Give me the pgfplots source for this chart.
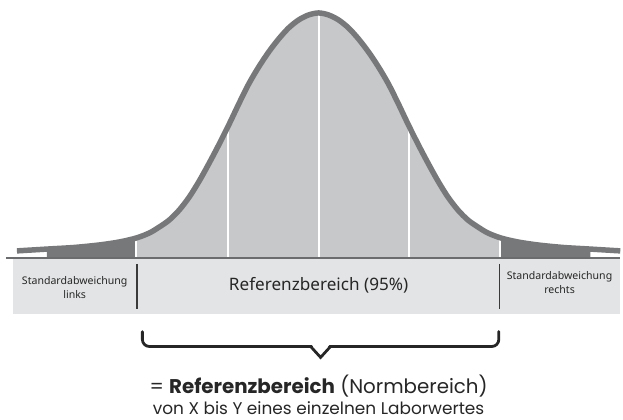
\documentclass[border=0pt]{standalone}
\usepackage{pgfplots}
\pgfplotsset{compat=1.18}
\usepgfplotslibrary{fillbetween}
\usepackage{fontspec}
\setmainfont{Poppins}
\newfontfamily\boxfont{Noto Sans}
\definecolor{curvegray}{HTML}{77787A}
\definecolor{lightfill}{HTML}{C7C8CA}
\definecolor{boxgray}{HTML}{E3E4E5}
\definecolor{textdark}{HTML}{262626}
\definecolor{sepgray}{HTML}{3A3A3A}
\pgfplotstableread{
x h
17 7
50 9
75 10.5
100 13
120 16
137 20
150 25
160 31
170 38
180 48
190 61
200 77
210 95
220 114
230 134
240 155
250 175
260 192
270 207
280 220
290 231
300 239
310 244
320 246
330 244
340 239
350 231
360 220
370 207
380 192
390 175
400 155
410 134
420 114
430 95
440 77
450 61
460 48
470 38
480 31
490 25
503 20
520 16
540 13
565 10.5
590 9
623 7
}\curvedata
\begin{document}
\begin{tikzpicture}
\begin{axis}[scale only axis, width=623pt, height=421pt,
  xmin=0, xmax=623, ymin=-162, ymax=259,
  axis lines=none, clip=false]
\path (axis cs:0,-162) rectangle (axis cs:623,259);
% boxes
\fill[boxgray] (axis cs:13,-1.5) rectangle (axis cs:623,-56);
\draw[sepgray, line width=1.6pt] (axis cs:137.5,-6) -- (axis cs:137.5,-51);
\draw[sepgray, line width=1.6pt] (axis cs:501.5,-6) -- (axis cs:501.5,-51);
\node[align=center, text=textdark, font=\boxfont\fontsize{10.6}{13.5}\selectfont] at (axis cs:75,-30) {Standardabweichung\\links};
\node[align=center, text=textdark, font=\boxfont\fontsize{17.2}{20}\selectfont] at (axis cs:320,-28) {Referenzbereich (95\%)};
\node[align=center, text=textdark, font=\boxfont\fontsize{10.6}{13.5}\selectfont] at (axis cs:562,-25) {Standardabweichung\\rechts};
% curve fills
\addplot[name path=curve, draw=none, smooth] table[x=x, y=h] {\curvedata};
\addplot[name path=base, draw=none] coordinates {(0,0) (623,0)};
\addplot[lightfill, on layer=main] fill between[of=curve and base, soft clip={domain=137:502}];
\addplot[curvegray, on layer=main] fill between[of=curve and base, soft clip={domain=47:137}];
\addplot[curvegray, on layer=main] fill between[of=curve and base, soft clip={domain=502:593}];
% white separators
\addplot[white, line width=2pt] coordinates {(137,0) (137,20)};
\addplot[white, line width=2pt] coordinates {(229,0) (229,132)};
\addplot[white, line width=2pt] coordinates {(320,0) (320,245)};
\addplot[white, line width=2pt] coordinates {(411,0) (411,132)};
\addplot[white, line width=2pt] coordinates {(502,0) (502,20)};
% curve stroke
\addplot[curvegray, line width=5.5pt, smooth] table[x=x, y=h] {\curvedata};
% baseline
\addplot[curvegray!90!black, line width=2.2pt] coordinates {(6,0) (623,0)};
% brace
\draw[textdark, line width=2.8pt, rounded corners=7pt, line cap=round]
  (axis cs:143,-74) -- (axis cs:143,-89) -- (axis cs:313,-89);
\draw[textdark, line width=2.8pt, line join=miter]
  (axis cs:312,-89) -- (axis cs:322,-100) -- (axis cs:332,-89);
\draw[textdark, line width=2.8pt, rounded corners=7pt, line cap=round]
  (axis cs:331,-89) -- (axis cs:501,-89) -- (axis cs:501,-74);
% bottom text
\node[text=textdark, font=\fontsize{19.9}{23}\selectfont] at (axis cs:320,-129) {= \textbf{Referenzbereich} (Normbereich)};
\node[text=textdark, font=\fontsize{17}{20}\selectfont] at (axis cs:320,-151) {von X bis Y eines einzelnen Laborwertes};
\end{axis}
\end{tikzpicture}
\end{document}
